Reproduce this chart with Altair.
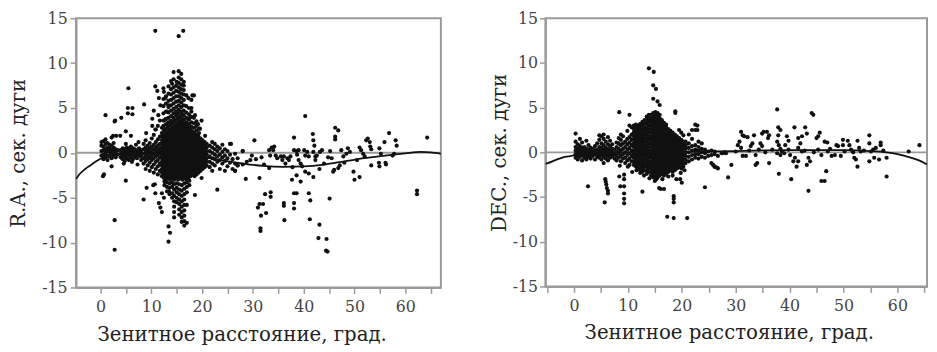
import altair as alt
import pandas as pd

# ---------------- R.A. panel data (zenith distance, residual) ----------------
RA_COLS = [
    (0.2, [-0.3, 0.2, 0.8, 1.2]),
    (0.6, [-0.7, -0.2, 0.3, 0.7, 1.3]),
    (1.0, [-0.5, 0.0, 0.4, 1.0, 1.5]),
    (1.4, [-0.8, -0.3, 0.2, 0.6, 1.1]),
    (1.8, [-0.4, 0.1, 0.5, 0.9]),
    (2.2, [-0.6, -0.1, 0.3, 0.8, 1.7]),
    (2.6, [-0.3, 0.2, 0.6, 1.1]),
    (3.0, [-0.5, 0.0, 0.4]),
    (3.4, [-0.2, 0.3]),
    (4.0, [-0.5, -0.1, 0.3]),
    (4.4, [-0.7, -0.3, 0.1, 0.5]),
    (4.8, [-0.9, -0.4, 0.0, 0.4]),
    (5.2, [-0.6, -0.2, 0.2, 0.6]),
    (5.6, [-0.8, -0.3, 0.1, 0.5]),
    (6.0, [-0.5, -0.1, 0.3, 0.7]),
    (6.4, [-0.7, -0.2, 0.2, 0.5]),
    (6.8, [-0.4, 0.0, 0.4]),
    (7.2, [-0.6, -0.2, 0.2]),
    (7.6, [-0.3, 0.1, 0.5]),
    (8.0, [-0.8, -0.4, 0.0, 0.3]),
    (8.5, [-1.2, -0.6, -0.1, 0.4, 1.0]),
    (8.9, [-1.8, -0.9, -0.4, 0.1, 0.6, 1.4]),
    (9.3, [-1.4, -0.7, -0.2, 0.3, 0.8]),
    (9.7, [-2.0, -1.1, -0.5, 0.0, 0.5, 1.1]),
    (10.1, [-1.6, -0.8, -0.3, 0.2, 0.7, 1.6]),
    (10.5, [-2.2, -1.3, -0.6, -0.1, 0.4, 0.9, 2.0]),
    (10.9, [-1.8, -1.0, -0.4, 0.1, 0.6, 1.2, 2.6]),
    (11.3, [-2.4, -1.5, -0.8, -0.2, 0.3, 0.8, 1.5, 3.0]),
    (11.7, [-2.0, -1.2, -0.5, 0.0, 0.5, 1.0, 1.8, 3.6]),
    (12.1, [-2.6, -2.2, -1.8, -1.4, -1.0, -0.6, -0.2, 0.2, 0.6, 1.0, 1.4, 1.8, 2.2]),
    (12.5, [-2.8, -2.4, -2.0, -1.6, -1.2, -0.8, -0.4, 0.0, 0.4, 0.8, 1.2, 1.6, 2.0, 2.5]),
    (12.9, [-3.0, -2.6, -2.2, -1.8, -1.4, -1.0, -0.6, -0.2, 0.2, 0.6, 1.0, 1.4, 1.8, 2.2, 2.7]),
    (13.3, [-2.8, -2.4, -2.0, -1.6, -1.2, -0.8, -0.4, 0.0, 0.4, 0.8, 1.2, 1.6, 2.0, 2.4, 2.9]),
    (13.7, [-3.0, -2.6, -2.2, -1.8, -1.4, -1.0, -0.6, -0.2, 0.2, 0.6, 1.0, 1.4, 1.8, 2.2, 2.6, 3.1]),
    (14.1, [-2.8, -2.4, -2.0, -1.6, -1.2, -0.8, -0.4, 0.0, 0.4, 0.8, 1.2, 1.6, 2.0, 2.4, 2.8, 3.3]),
    (14.5, [-3.0, -2.6, -2.2, -1.8, -1.4, -1.0, -0.6, -0.2, 0.2, 0.6, 1.0, 1.4, 1.8, 2.2, 2.6, 3.0, 3.5]),
    (14.9, [-2.8, -2.4, -2.0, -1.6, -1.2, -0.8, -0.4, 0.0, 0.4, 0.8, 1.2, 1.6, 2.0, 2.4, 2.8, 3.2, 3.7, 4.2]),
    (15.3, [-3.0, -2.6, -2.2, -1.8, -1.4, -1.0, -0.6, -0.2, 0.2, 0.6, 1.0, 1.4, 1.8, 2.2, 2.6, 3.0, 3.4, 3.9, 4.4]),
    (15.7, [-2.8, -2.4, -2.0, -1.6, -1.2, -0.8, -0.4, 0.0, 0.4, 0.8, 1.2, 1.6, 2.0, 2.4, 2.8, 3.2, 3.6, 4.1]),
    (16.1, [-3.0, -2.6, -2.2, -1.8, -1.4, -1.0, -0.6, -0.2, 0.2, 0.6, 1.0, 1.4, 1.8, 2.2, 2.6, 3.0, 3.4, 3.8, 4.3]),
    (16.5, [-2.8, -2.4, -2.0, -1.6, -1.2, -0.8, -0.4, 0.0, 0.4, 0.8, 1.2, 1.6, 2.0, 2.4, 2.8, 3.2, 3.7]),
    (16.9, [-3.0, -2.6, -2.2, -1.8, -1.4, -1.0, -0.6, -0.2, 0.2, 0.6, 1.0, 1.4, 1.8, 2.2, 2.6, 3.0]),
    (17.3, [-2.8, -2.4, -2.0, -1.6, -1.2, -0.8, -0.4, 0.0, 0.4, 0.8, 1.2, 1.6, 2.0, 2.4, 2.8]),
    (17.7, [-2.6, -2.2, -1.8, -1.4, -1.0, -0.6, -0.2, 0.2, 0.6, 1.0, 1.4, 1.8, 2.2, 2.6]),
    (18.1, [-2.4, -2.0, -1.6, -1.2, -0.8, -0.4, 0.0, 0.4, 0.8, 1.2, 1.6, 2.0, 2.4]),
    (18.5, [-2.6, -2.2, -1.8, -1.4, -1.0, -0.6, -0.2, 0.2, 0.6, 1.0, 1.4, 1.8, 2.2]),
    (18.9, [-2.4, -2.0, -1.6, -1.2, -0.8, -0.4, 0.0, 0.4, 0.8, 1.2, 1.6, 2.0]),
    (19.3, [-2.2, -1.8, -1.4, -1.0, -0.6, -0.2, 0.2, 0.6, 1.0, 1.4, 1.8]),
    (19.7, [-2.0, -1.6, -1.2, -0.8, -0.4, 0.0, 0.4, 0.8, 1.2, 1.6]),
    (20.1, [-1.8, -1.4, -1.0, -0.6, -0.2, 0.2, 0.6, 1.0, 1.4]),
    (20.5, [-1.6, -1.2, -0.8, -0.4, 0.0, 0.4, 0.8, 1.2]),
    (20.9, [-1.4, -1.0, -0.6, -0.2, 0.2, 0.6, 1.0]),
    # upper spike
    (12.4, [3.0, 3.6, 4.4, 5.2, 6.0, 7.2]),
    (12.9, [3.2, 3.8, 4.6, 5.5, 6.3]),
    (13.4, [3.4, 3.9, 4.5, 5.1, 5.8, 6.6, 7.4]),
    (13.9, [3.6, 4.1, 4.7, 5.3, 5.9, 6.5, 7.1, 8.0]),
    (14.4, [3.9, 4.4, 4.9, 5.5, 6.1, 6.7, 7.3, 8.2, 9.0]),
    (14.9, [4.6, 5.1, 5.7, 6.3, 6.9, 7.5]),
    (15.4, [4.8, 5.3, 5.8, 6.3, 6.8, 7.3, 7.8, 8.4, 9.1]),
    (15.9, [4.6, 5.1, 5.6, 6.1, 6.6, 7.1, 7.6, 8.2, 8.8]),
    (16.4, [4.2, 4.7, 5.3, 5.9, 6.5, 7.0, 7.5, 7.9]),
    (16.9, [3.4, 3.9, 4.5, 5.2, 6.4]),
    (17.4, [3.2, 3.7, 4.3, 5.0]),
    (17.9, [2.9, 3.4, 4.0, 4.6, 5.9]),
    (18.4, [2.8, 3.3, 3.9, 6.4]),
    (18.9, [2.5, 3.0, 3.5]),
    (19.4, [2.2, 2.7]),
    # lower spike
    (12.6, [-3.2, -3.6]),
    (13.1, [-3.3, -3.8, -4.3]),
    (13.6, [-3.4, -3.9, -4.6]),
    (14.1, [-3.3, -3.8, -4.5, -5.0]),
    (14.5, [-3.5, -4.1, -4.8, -5.4, -6.0, -6.6, -7.2]),
    (15.0, [-3.4, -3.9, -4.4, -5.0, -5.5]),
    (15.5, [-3.5, -4.1, -4.6, -5.2, -5.7, -6.3, -6.9]),
    (16.0, [-3.6, -4.2, -4.8, -5.4, -6.0, -6.6, -7.2, -7.7]),
    (16.5, [-3.4, -4.0, -4.6, -5.2, -5.8, -6.4, -7.0, -7.6, -8.1]),
    (17.0, [-3.3, -3.8, -4.4, -5.8, -7.8]),
    (17.5, [-3.1, -3.6]),
    # tail
    (21.5, [-1.6, -1.0, -0.4, 0.2, 0.8]),
    (22.0, [-2.0, -1.2, -0.6, 0.0, 0.6, 1.2]),
    (22.5, [-1.4, -0.7, -0.2, 0.4, 1.0]),
    (23.0, [-1.0, -0.4, 0.2, 0.7]),
    (23.5, [-1.8, -0.8, -0.2, 0.5]),
    (24.0, [-1.2, -0.5, 0.1, 0.9]),
    (24.5, [-2.0, -0.9, -0.3, 0.4]),
    (25.0, [-1.5, -0.6, 0.2]),
    (25.5, [-1.1, -0.2, 1.0]),
    (26.0, [-1.8, -0.7]),
    (26.5, [-2.0, -1.2, -0.1]),
    (27.0, [-1.4, -0.6]),
    (28.0, [0.2, -1.3]),
]

RA_PTS = [
    (1.0, 4.2), (2.8, 3.5), (2.9, 3.6), (4.1, 3.9), (5.5, 7.2), (5.4, 5.0), (6.3, 5.0),
    (5.4, 4.4), (6.3, 4.3), (8.6, 5.4), (10.8, 7.4), (11.2, 6.9), (10.5, 4.7), (10.2, 3.8),
    (10.2, 3.0), (2.5, 1.9), (3.1, 1.9), (3.9, 1.9), (5.0, 2.4), (6.0, 1.9), (7.5, 1.2),
    (5.0, 1.0), (7.0, 0.9), (9.0, 2.2), (0.5, -2.6), (0.7, -2.4), (2.2, -1.5), (5.0, -3.1),
    (6.2, -1.0), (4.6, -1.2), (7.3, -1.3), (2.8, -7.5), (2.8, -10.8), (8.5, -5.2), (9.1, -3.9),
    (10.4, -3.6), (10.8, -4.5), (10.7, -3.5), (12.1, -4.5), (11.5, -5.6), (11.8, -6.1),
    (12.1, -6.6), (12.5, -5.0), (13.5, -4.3), (13.4, -8.2), (13.7, -8.9), (13.4, -9.9),
    (18.6, -4.7), (19.9, -2.8), (23.0, -4.1), (19.9, 3.6), (19.6, 2.7), (20.6, 1.9),
    (18.1, 6.4), (10.8, 13.6), (15.4, 13.0), (16.3, 13.6),
    (11.5, 6.1), (11.8, 5.3), (12.5, 6.8), (12.8, 6.1), (13.1, 4.6), (13.4, 5.3), (11.4, 4.2),
    (12.1, 2.8), (10.8, 2.6), (12.8, 3.7), (14.1, 7.7), (15.0, 7.9), (17.3, 6.1), (17.9, 5.0),
    (18.6, 4.2), (17.6, 3.9), (19.2, 3.2),
    (25.7, 1.0), (26.5, -2.0), (27.0, -1.4), (28.0, 0.2), (28.6, -2.9),
    (30.3, 1.4), (29.5, -0.8), (30.6, -0.7), (31.7, -0.5), (31.3, -2.8), (32.4, -4.6),
    (33.5, -4.4), (33.5, -4.9), (31.3, -5.7), (32.0, -5.7), (31.0, -6.1), (31.6, -7.0),
    (32.6, -6.7), (31.5, -8.4), (31.5, -8.7), (33.2, 0.3), (33.7, 0.6), (34.2, 0.7),
    (34.0, 0.3), (33.4, -0.3), (34.5, -0.3), (34.8, -0.6), (33.2, -1.7), (35.5, -0.4),
    (35.8, -0.8), (36.1, -0.4), (36.4, -1.2), (36.8, -0.6), (37.1, -0.8), (37.4, -0.4),
    (36.1, -5.6), (36.1, -5.9), (36.2, -7.5), (38.1, 1.7), (38.1, 0.3), (38.6, 0.2),
    (38.7, -0.2), (39.0, 0.3), (37.7, -3.0), (38.6, -2.5), (39.4, -3.2), (38.1, -4.5),
    (38.6, -4.5), (38.1, -5.6), (38.1, -6.2), (39.4, -1.2), (39.7, -1.5), (40.3, 4.1),
    (40.1, 0.3), (40.7, 0.1), (40.3, -0.3), (41.0, -0.4), (40.3, -2.1), (41.0, -2.3),
    (41.9, -2.7), (41.0, -4.5), (41.3, -5.3), (41.2, -7.4), (41.8, 2.1), (41.9, 1.4),
    (42.1, 0.8), (41.9, 0.1), (42.3, -0.4), (42.3, -0.8), (42.6, -0.3), (43.2, 0.1),
    (43.6, 0.3), (43.1, -1.8), (43.1, -8.0), (42.9, -9.5), (44.5, -9.6), (44.4, -10.9),
    (44.7, -11.0), (45.1, -5.1), (45.2, 0.2), (45.5, -0.6), (46.0, -1.9), (45.8, -2.1),
    (46.8, -1.7), (47.1, -1.4), (46.2, 2.8), (46.8, 2.5), (46.2, 1.8), (46.2, 1.5),
    (47.4, 0.3), (47.8, -0.4), (48.4, -0.1), (48.7, 0.5), (49.1, 0.1), (49.8, -2.1),
    (50.0, -3.0), (51.0, -2.7), (51.0, 0.6), (51.3, 0.3), (51.7, -0.1), (52.0, -0.4),
    (52.3, 1.4), (52.6, 1.6), (53.0, 1.2), (53.1, 0.7), (53.3, 0.4), (53.3, -1.4),
    (54.8, -1.1), (54.9, -1.5), (55.9, 1.2), (56.8, 2.2), (56.1, -1.1), (56.2, -1.3),
    (57.5, -0.3), (58.1, 1.4), (58.3, 0.8), (57.8, -0.1), (54.9, 0.5), (55.2, -0.1),
    (62.3, -4.2), (62.3, -4.6), (64.3, 1.7), (28.8, -1.0), (29.8, -0.3), (32.2, -1.3),
    (37.8, -1.6), (39.0, -0.8), (44.0, -1.2), (44.8, -0.5), (48.0, -1.1), (50.5, -0.8),
]

RA_CURVE_X = [-4.8, -4, -3, -2, -1, 0, 1, 2, 3, 5, 8, 12, 16, 20, 24, 28, 32, 36, 40, 44, 48, 52, 56, 60, 63, 65, 67]
RA_CURVE_Y = [-2.9, -2.3, -1.8, -1.4, -1.0, -0.65, -0.4, -0.25, -0.15, -0.05, 0.0, -0.05, -0.2, -0.45, -0.85, -1.2, -1.45, -1.55, -1.5, -1.3, -0.95, -0.6, -0.3, -0.05, 0.1, 0.05, -0.1]

# ---------------- DEC panel data ----------------
DEC_COLS = [
    (0.3, [-0.6, -0.2, 0.2, 0.6, 1.2, 2.1]),
    (0.7, [-0.8, -0.4, 0.0, 0.4, 0.9]),
    (1.1, [-0.5, -0.1, 0.3, 0.7, 1.5]),
    (1.5, [-0.9, -0.3, 0.1, 0.5, 1.1]),
    (1.9, [-0.6, -0.2, 0.2, 0.6]),
    (2.3, [-0.8, -0.4, 0.0, 0.4, 1.3]),
    (2.7, [-0.5, -0.1, 0.3, 0.8]),
    (3.1, [-0.7, -0.3, 0.1, 0.5]),
    (3.5, [-0.4, 0.0, 0.4]),
    (3.9, [-0.8, -0.2, 0.2, 0.7]),
    (4.3, [-0.5, -0.1, 0.3, 1.0]),
    (4.7, [-0.6, -0.2, 0.2, 0.6, 1.4, 1.9]),
    (5.1, [-0.8, -0.3, 0.1, 0.5, 1.0, 1.8]),
    (5.5, [-0.5, -0.1, 0.3, 0.8, 1.5, 2.0]),
    (5.9, [-0.7, -0.3, 0.1, 0.5, 1.2]),
    (6.3, [-0.9, -0.4, 0.0, 0.4, 0.9, 1.7]),
    (6.7, [-0.6, -0.2, 0.2, 0.7, 1.3]),
    (7.1, [-0.4, 0.0, 0.4, 0.9]),
    (7.5, [-0.7, -0.2, 0.3]),
    (7.9, [-0.9, -0.4, 0.1, 0.6, 1.1]),
    (8.3, [-0.6, -0.1, 0.4, 1.0, 1.6]),
    (8.7, [-1.0, -0.4, 0.2, 0.8, 1.4, 2.0]),
    (9.1, [-0.7, -0.2, 0.4, 1.0, 1.8]),
    (9.5, [-1.2, -0.6, 0.0, 0.6, 1.2]),
    (9.9, [-0.9, -0.3, 0.3, 0.9, 1.5, 2.4]),
    (10.3, [-1.4, -0.7, -0.1, 0.5, 1.1, 1.7, 3.0]),
    (10.7, [-1.0, -0.4, 0.2, 0.8, 1.4, 2.0, 2.8]),
    (11.1, [-1.4, -1.0, -0.6, -0.2, 0.2, 0.6, 1.0, 1.4, 1.8, 2.2, 2.6, 3.0]),
    (11.5, [-1.6, -1.2, -0.8, -0.4, 0.0, 0.4, 0.8, 1.2, 1.6, 2.0, 2.4, 2.8, 3.1]),
    (11.9, [-1.8, -1.4, -1.0, -0.6, -0.2, 0.2, 0.6, 1.0, 1.4, 1.8, 2.2, 2.6, 3.0]),
    (12.3, [-2.0, -1.6, -1.2, -0.8, -0.4, 0.0, 0.4, 0.8, 1.2, 1.6, 2.0, 2.4, 2.8, 3.2]),
    (12.7, [-2.2, -1.8, -1.4, -1.0, -0.6, -0.2, 0.2, 0.6, 1.0, 1.4, 1.8, 2.2, 2.6, 3.0, 3.4]),
    (13.1, [-2.0, -1.6, -1.2, -0.8, -0.4, 0.0, 0.4, 0.8, 1.2, 1.6, 2.0, 2.4, 2.8, 3.2, 3.6]),
    (13.5, [-2.4, -2.0, -1.6, -1.2, -0.8, -0.4, 0.0, 0.4, 0.8, 1.2, 1.6, 2.0, 2.4, 2.8, 3.2, 3.6, 4.0]),
    (13.9, [-2.2, -1.8, -1.4, -1.0, -0.6, -0.2, 0.2, 0.6, 1.0, 1.4, 1.8, 2.2, 2.6, 3.0, 3.4, 3.8, 4.2]),
    (14.3, [-2.6, -2.2, -1.8, -1.4, -1.0, -0.6, -0.2, 0.2, 0.6, 1.0, 1.4, 1.8, 2.2, 2.6, 3.0, 3.4, 3.8, 4.2]),
    (14.7, [-2.8, -2.4, -2.0, -1.6, -1.2, -0.8, -0.4, 0.0, 0.4, 0.8, 1.2, 1.6, 2.0, 2.4, 2.8, 3.2, 3.6, 4.0, 4.4]),
    (15.1, [-2.6, -2.2, -1.8, -1.4, -1.0, -0.6, -0.2, 0.2, 0.6, 1.0, 1.4, 1.8, 2.2, 2.6, 3.0, 3.4, 3.8, 4.2, 4.5]),
    (15.5, [-2.8, -2.4, -2.0, -1.6, -1.2, -0.8, -0.4, 0.0, 0.4, 0.8, 1.2, 1.6, 2.0, 2.4, 2.8, 3.2, 3.6, 4.0, 4.4]),
    (15.9, [-2.6, -2.2, -1.8, -1.4, -1.0, -0.6, -0.2, 0.2, 0.6, 1.0, 1.4, 1.8, 2.2, 2.6, 3.0, 3.4, 3.8, 4.2]),
    (16.3, [-2.4, -2.0, -1.6, -1.2, -0.8, -0.4, 0.0, 0.4, 0.8, 1.2, 1.6, 2.0, 2.4, 2.8, 3.2, 3.6]),
    (16.7, [-2.6, -2.2, -1.8, -1.4, -1.0, -0.6, -0.2, 0.2, 0.6, 1.0, 1.4, 1.8, 2.2, 2.6, 3.0, 3.3]),
    (17.1, [-2.4, -2.0, -1.6, -1.2, -0.8, -0.4, 0.0, 0.4, 0.8, 1.2, 1.6, 2.0, 2.4, 2.8, 3.1]),
    (17.5, [-2.2, -1.8, -1.4, -1.0, -0.6, -0.2, 0.2, 0.6, 1.0, 1.4, 1.8, 2.2, 2.6]),
    (17.9, [-2.0, -1.6, -1.2, -0.8, -0.4, 0.0, 0.4, 0.8, 1.2, 1.6, 2.0, 2.4]),
    (18.3, [-2.2, -1.8, -1.4, -1.0, -0.6, -0.2, 0.2, 0.6, 1.0, 1.4, 1.8, 2.2]),
    (18.7, [-2.0, -1.6, -1.2, -0.8, -0.4, 0.0, 0.4, 0.8, 1.2, 1.6, 2.0]),
    (19.1, [-1.8, -1.4, -1.0, -0.6, -0.2, 0.2, 0.6, 1.0, 1.4, 1.8]),
    (19.5, [-1.6, -1.2, -0.8, -0.4, 0.0, 0.4, 0.8, 1.2, 1.6, 2.5]),
    (19.9, [-1.8, -1.4, -1.0, -0.6, -0.2, 0.2, 0.6, 1.0, 1.4, 2.2]),
    (20.3, [-1.6, -1.2, -0.8, -0.4, 0.0, 0.4, 0.8, 1.2, 1.9]),
    (20.7, [-1.2, -0.8, -0.4, 0.0, 0.4, 0.8, 1.2]),
    (21.3, [-1.0, -0.5, 0.0, 0.5, 1.0, 2.0]),
    (21.9, [-0.8, -0.3, 0.2, 0.7, 1.5, 2.5]),
    (22.5, [-0.6, -0.2, 0.3, 0.8, 3.1, 2.5]),
    (23.1, [-0.7, -0.2, 0.2, 0.6, 1.2]),
    (23.7, [-0.5, 0.0, 0.4, 1.0]),
    (24.3, [-0.6, -0.1, 0.3]),
    (24.9, [-0.4, 0.1]),
    (25.5, [-0.3, 0.2, -1.2]),
    (26.1, [-0.2, -1.6, 0.1]),
    (26.7, [-0.4, -1.8]),
    (27.4, [-0.1]),
    (28.0, [0.0]),
]

DEC_PTS = [
    (13.9, 9.4), (14.8, 9.0), (14.7, 7.5), (15.2, 7.1), (14.7, 6.0), (15.5, 5.7), (15.9, 5.3),
    (8.4, 4.5), (10.3, 4.2), (18.8, 4.6), (18.8, 4.4), (22.9, 3.0), (22.9, 2.5),
    (2.6, -3.8), (5.8, -3.0), (5.9, -3.3), (6.0, -3.6), (6.1, -4.0), (6.3, -4.3), (6.3, -4.6),
    (5.7, -5.6), (8.4, -2.7), (8.6, -3.8), (9.3, -2.5), (9.3, -3.0), (9.3, -3.8), (9.3, -4.6),
    (9.3, -5.2), (9.3, -5.7), (12.7, -4.4), (15.3, -3.0), (15.8, -4.0), (16.1, -4.1),
    (16.7, -4.1), (18.5, -4.9), (18.5, -5.2), (18.5, -5.6), (17.3, -7.2), (18.5, -7.35),
    (21.0, -7.35), (19.7, -3.0), (20.0, -3.4), (24.3, -3.9),
    (11.6, -2.0), (12.3, -2.3), (13.0, -2.6), (14.0, -2.9), (15.0, -3.2), (16.4, -3.0),
    (17.5, -2.7), (18.3, -2.6), (19.0, -3.0), (19.8, -2.3), (10.8, -2.2), (8.5, -1.5),
    (5.5, -1.2), (10.0, -1.6), (20.5, -2.0),
    (26.1, -1.6), (26.5, -1.7), (25.8, -1.4), (28.6, -2.8), (29.2, -1.4), (27.6, -0.1), (28.2, -0.1),
    (31.0, 2.3), (31.3, 1.9), (31.6, 1.8), (32.2, 1.7), (30.7, 1.2), (30.4, 0.8), (31.0, 0.5),
    (31.3, -0.4), (31.9, -0.4), (33.4, 1.9), (33.1, 1.0), (32.8, 0.7), (33.7, -0.3), (34.0, -1.2),
    (33.7, -1.4), (34.9, 2.1), (35.2, 2.3), (35.8, 2.3), (36.2, 1.9), (36.0, 1.6), (34.6, 1.0),
    (34.9, 0.7), (34.3, 0.3), (36.2, -1.2), (37.7, 4.8), (37.9, 2.8), (38.3, 2.5), (37.9, 1.9),
    (37.7, 1.2), (38.0, 0.8), (38.3, 0.4), (38.6, 0.1), (37.7, -0.1), (38.3, -0.3), (38.0, -2.4),
    (39.5, 1.8), (39.8, 1.3), (39.2, 0.8), (39.8, 0.3), (40.1, -0.3), (40.3, -3.0),
    (40.9, 2.8), (41.6, 1.6), (42.3, 1.8), (40.7, -1.0), (41.3, -1.6), (41.6, -1.0), (41.0, -0.6),
    (42.0, 1.0), (41.6, 0.5), (42.3, 0.1), (42.9, 2.8), (43.2, 2.1), (43.2, -1.4), (43.5, -0.6),
    (43.8, -1.0), (43.5, -4.3), (44.1, 4.4), (44.4, 4.2), (45.0, 1.6), (45.3, 1.8), (45.6, 2.2),
    (45.3, 0.3), (45.9, -0.3), (45.9, -3.2), (46.5, -3.2), (46.8, -2.1), (46.5, 1.2), (47.0, 1.1),
    (47.1, 0.1), (47.8, -0.4), (48.4, -0.3), (48.7, 0.8), (49.0, 0.7), (49.9, 1.4), (49.9, 0.8),
    (49.5, -0.4), (50.8, 1.3), (51.1, 0.8), (51.4, 0.3), (52.0, -0.6), (52.6, -1.6), (52.3, -0.8),
    (52.6, 1.3), (52.9, 0.5), (53.2, 0.1), (54.8, 1.9), (54.8, 1.0), (55.1, 0.1), (54.8, -1.0),
    (56.0, 0.5), (56.6, -0.8), (56.9, 0.8), (56.9, 1.1), (58.0, -0.6), (58.0, -2.7), (55.7, -0.6),
    (62.1, 0.1), (64.1, 0.8),
    (30.0, 0.1), (32.5, 0.2), (35.5, 0.0), (36.8, 0.3), (39.0, -0.1), (42.8, 0.2), (44.5, 0.0),
    (47.5, 0.4), (50.2, 0.1), (51.8, 0.0), (53.8, 0.2), (55.5, 0.3), (57.4, 0.2),
]

DEC_CURVE_X = [-5.3, -4, -3, -2, -1, 0, 2, 5, 10, 20, 30, 40, 50, 55, 58, 60, 62, 64, 65.5]
DEC_CURVE_Y = [-1.3, -1.0, -0.75, -0.55, -0.45, -0.35, -0.2, -0.1, 0.0, 0.05, 0.15, 0.25, 0.25, 0.15, 0.0, -0.2, -0.5, -0.9, -1.35]

X_TITLE = "Зенитное расстояние, град."
FONT = "DejaVu Serif"
X_MAJOR = [0, 10, 20, 30, 40, 50, 60]
RA_MINOR = [5, 15, 25, 35, 45, 55, 65]
DEC_MINOR = [-5, 5, 15, 25, 35, 45, 55, 65]
Y_TICKS = [-15, -12.5, -10, -7.5, -5, -2.5, 0, 2.5, 5, 7.5, 10, 12.5, 15]


def table(cols, pts):
    xs, ys = [], []
    for x, yl in cols:
        for y in yl:
            xs.append(x)
            ys.append(y)
    for x, y in pts:
        xs.append(x)
        ys.append(y)
    return pd.DataFrame({"z": xs, "v": ys})


def panel(cols, pts, cx, cy, ytitle, xdom, minor_vals, width, height, title_x, title_y, title_pad, label_pad):
    df = table(cols, pts)
    curve = pd.DataFrame({"z": cx, "v": cy})
    xscale = alt.Scale(domain=xdom, nice=False, zero=False)
    xenc = alt.X(
        "z:Q",
        scale=xscale,
        axis=alt.Axis(
            values=X_MAJOR,
            format="d",
            labelOverlap=False,
            labelFlush=False,
            title=X_TITLE,
            titleX=title_x,
            titleY=title_y,
            titleAlign="center",
            titleBaseline="alphabetic",
            labelPadding=5,
        ),
    )
    yenc = alt.Y(
        "v:Q",
        scale=alt.Scale(domain=[-15, 15], nice=False, zero=False),
        axis=alt.Axis(
            values=Y_TICKS,
            labelExpr="datum.value % 5 === 0 ? '' + datum.value : ''",
            labelOverlap=False,
            title=ytitle,
            titlePadding=title_pad,
            labelPadding=label_pad,
        ),
    )
    minor = alt.Chart(pd.DataFrame({"z": minor_vals})).mark_point(opacity=0).encode(
        x=alt.X("z:Q", scale=xscale,
                axis=alt.Axis(values=minor_vals, labels=False, domain=False, title=None, orient="bottom"))
    )
    zero = alt.Chart(pd.DataFrame({"v": [0]})).mark_rule(color="#9a9a9a", strokeWidth=2).encode(y="v:Q")
    dots = alt.Chart(df).mark_circle(size=18, color="#111111", opacity=1, clip=True).encode(x=xenc, y=yenc)
    line = alt.Chart(curve).mark_line(color="#111111", strokeWidth=1.8, interpolate="monotone", clip=True).encode(
        x=alt.X("z:Q", scale=xscale), y="v:Q"
    )
    main = alt.layer(zero, dots, line)
    return alt.layer(main, minor).resolve_axis(x="independent").properties(width=width, height=height)


left = panel(RA_COLS, RA_PTS, RA_CURVE_X, RA_CURVE_Y, "R.A., сек. дуги", [-4.8, 67], RA_MINOR,
             370, 273, 168, 54, 13, 3)
right = panel(DEC_COLS, DEC_PTS, DEC_CURVE_X, DEC_CURVE_Y, "DEC., сек. дуги", [-5.3, 65.5], DEC_MINOR,
              387, 272, 186, 53, 3, 2)

chart = (
    alt.hconcat(left, right, spacing=46)
    .properties(padding={"left": 0, "top": -1, "right": 0, "bottom": 0})
    .configure_view(stroke="#9a9a9a", strokeWidth=2)
    .configure_axis(
        grid=False,
        domainColor="#9a9a9a",
        domainWidth=2,
        tickColor="#9a9a9a",
        tickWidth=1.5,
        tickSize=6,
        labelFont=FONT,
        labelFontSize=16,
        labelColor="#444444",
        titleFont=FONT,
        titleFontSize=20,
        titleFontWeight="normal",
        titleColor="#222222",
    )
)

chart.save("out.html", embed_options={"renderer": "svg", "actions": False})
